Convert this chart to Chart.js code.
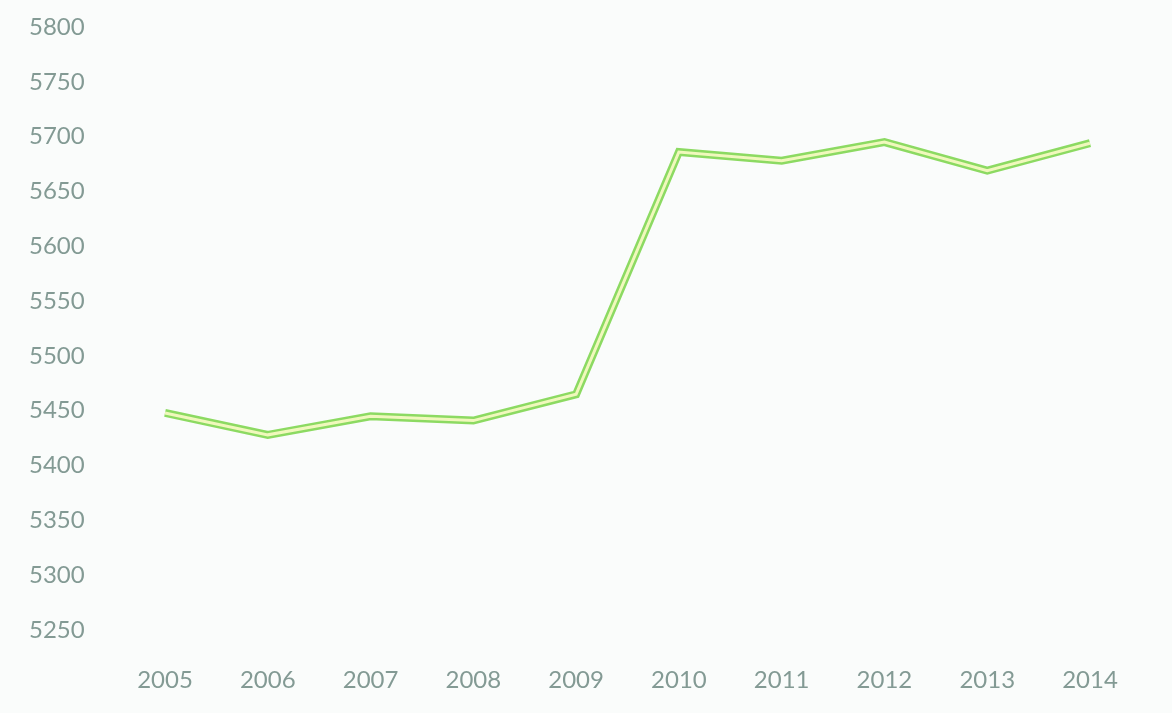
<!DOCTYPE html>
<html>
<head>
<meta charset="utf-8">
<script src="https://cdn.jsdelivr.net/npm/chart.js@4"></script>
<style>
    html, body { margin: 0; padding: 0; background: #fafcfb; }
    #wrap { width: 1172px; height: 713px; position: relative; }
</style>
</head>
<body>
<div id="wrap"><canvas id="lineChart"></canvas></div>
<script>

// data
const years = ['2005', '2006', '2007', '2008', '2009', '2010', '2011', '2012', '2013', '2014'];
const values = [5448, 5428, 5445, 5441, 5465, 5686, 5678, 5695, 5669, 5694];
const yMin = 5250;
const yMax = 5800;
const yStep = 50;

const textColor = "#839a94";

new Chart(document.getElementById("lineChart"), {
    type: 'line',
    data: {
        labels: years,
        datasets: [{
            // pale centre of the double line
            data: values,
            borderColor: "#f0f8bc",
            borderWidth: 3,
            pointRadius: 0,
            tension: 0,
            order: 0
        }, {
            data: values,
            borderColor: "#8cda62",
            borderWidth: 8,
            pointRadius: 0,
            tension: 0,
            order: 1
        }]
    },
    options: {
        responsive: true,
        maintainAspectRatio: false,
        animation: false,
        layout: {
            padding: { top: 27, right: 82, left: 29, bottom: 0 }
        },
        plugins: {
            legend: { display: false },
            tooltip: { enabled: false }
        },
        scales: {
            x: {
                offset: false,
                grid: { display: false, drawTicks: false },
                border: { display: false },
                afterFit: function(scale){
                    scale.height = 83;
                },
                ticks: {
                    color: textColor,
                    font: { family: 'Lato', size: 24 },
                    padding: 36,
                    maxRotation: 0,
                    autoSkip: false
                }
            },
            y: {
                min: yMin,
                max: yMax,
                grid: { display: false, drawTicks: false },
                border: { display: false },
                afterFit: function(scale){
                    scale.width = 136;
                },
                ticks: {
                    stepSize: yStep,
                    color: textColor,
                    font: { family: 'Lato', size: 24 },
                    padding: 4,
                    crossAlign: 'far',
                    callback: function(v){ return String(v); }
                }
            }
        }
    }
});

</script>
</body>
</html>
